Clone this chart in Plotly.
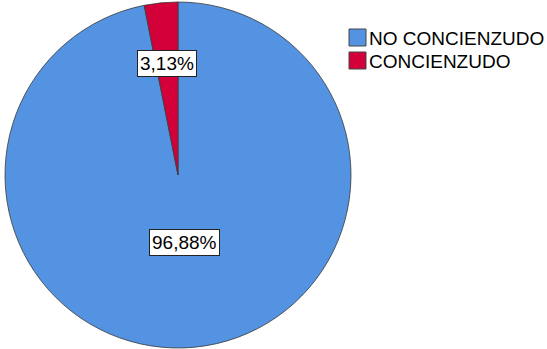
import math
import plotly.graph_objects as go

# Data
categories = ["NO CONCIENZUDO", "CONCIENZUDO"]
percentages = [96.88, 3.13]
colors = ["#5393E1", "#D3003A"]

W, H = 547, 349
# pie placement in pixels
cx, cy, R = 178, 175, 173

fig = go.Figure(
    go.Pie(
        labels=categories,
        values=percentages,
        sort=False,
        direction="clockwise",
        rotation=0,
        marker=dict(colors=colors, line=dict(color="#3a3a3a", width=0.8)),
        textinfo="none",
        hoverinfo="label+percent",
        showlegend=False,
        domain=dict(x=[(cx - R) / W, (cx + R) / W], y=[1 - (cy + R) / H, 1 - (cy - R) / H]),
    )
)

# Boxed percentage labels placed along each slice's mid-angle
radial_frac = [0.39, 0.65]
total = sum(percentages)
cum = 0.0
annotations = []
for val, frac in zip(percentages, radial_frac):
    theta = math.radians(360.0 * (cum + val / 2) / total)
    cum += val
    px = cx + R * frac * math.sin(theta)
    py = cy - R * frac * math.cos(theta)
    annotations.append(dict(
        x=px / W, y=1 - py / H, xref="paper", yref="paper",
        xanchor="center", yanchor="middle",
        text=f"{val:.2f}%".replace(".", ","),
        showarrow=False,
        font=dict(family="Liberation Sans, Arial", size=19, color="black"),
        bgcolor="white", bordercolor="#222", borderwidth=1, borderpad=2,
    ))

# Legend: colour squares with category names
shapes = []
leg_x, leg_y0, step, sq = 349, 29, 23, 17
for i, (name, col) in enumerate(zip(categories, colors)):
    top = leg_y0 + i * step
    shapes.append(dict(
        type="rect", xref="paper", yref="paper",
        x0=leg_x / W, x1=(leg_x + sq) / W,
        y0=1 - (top + sq) / H, y1=1 - top / H,
        fillcolor=col, line=dict(color="#444", width=1),
    ))
    annotations.append(dict(
        x=(leg_x + sq + 1) / W, y=1 - (top + sq / 2 + 1) / H,
        xref="paper", yref="paper", xanchor="left", yanchor="middle",
        text=name, showarrow=False,
        font=dict(family="Liberation Sans, Arial", size=19, color="black"),
    ))

fig.update_layout(
    width=W, height=H,
    margin=dict(l=0, r=0, t=0, b=0),
    paper_bgcolor="white", plot_bgcolor="white",
    annotations=annotations, shapes=shapes,
)

fig.write_html("out.html")
